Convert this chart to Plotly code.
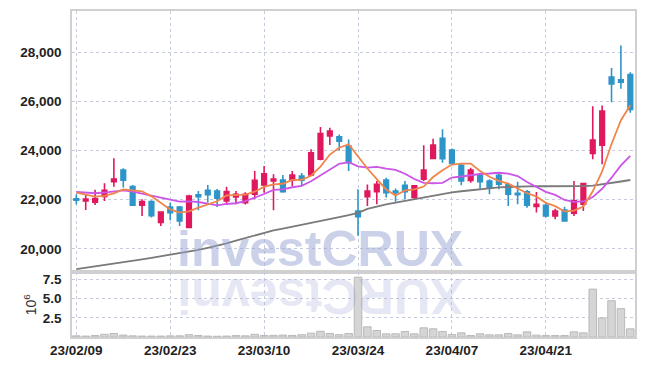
import plotly.graph_objects as go

dates = [
    "2023-02-09", "2023-02-10", "2023-02-13", "2023-02-14", "2023-02-15", "2023-02-16", "2023-02-17",
    "2023-02-20", "2023-02-21", "2023-02-22", "2023-02-23", "2023-02-24", "2023-02-27", "2023-02-28",
    "2023-03-02", "2023-03-03", "2023-03-06", "2023-03-07", "2023-03-08", "2023-03-09", "2023-03-10",
    "2023-03-13", "2023-03-14", "2023-03-15", "2023-03-16", "2023-03-17", "2023-03-20", "2023-03-21",
    "2023-03-22", "2023-03-23", "2023-03-24", "2023-03-27", "2023-03-28", "2023-03-29", "2023-03-30",
    "2023-03-31", "2023-04-03", "2023-04-04", "2023-04-05", "2023-04-06", "2023-04-07", "2023-04-10",
    "2023-04-11", "2023-04-12", "2023-04-13", "2023-04-14", "2023-04-17", "2023-04-18", "2023-04-19",
    "2023-04-20", "2023-04-21", "2023-04-24", "2023-04-25", "2023-04-26", "2023-04-27", "2023-04-28",
    "2023-05-02", "2023-05-03", "2023-05-04", "2023-05-08",
]

opens = [22030, 21950, 21900, 22130, 22730, 23200, 22530, 21770, 21920, 21070,
         21700, 21700, 20865, 22200, 22380, 22350, 21950, 22110, 21880, 22220,
         22600, 22760, 22800, 22790, 22960, 23000, 23640, 24585, 24560, 24180,
         21540, 22120, 22325, 22800, 22350, 22585, 22085, 22830, 23680, 24490,
         24015, 23395, 22785, 22990, 22760, 22990, 22600, 22260, 22315, 21720,
         21775, 21340, 21580, 21450, 21815, 23880, 24210, 26980, 26870, 27090]
highs = [22220, 22220, 22400, 22670, 23680, 23275, 22600, 22020, 21975, 21500,
         21880, 21745, 22200, 22350, 22600, 22430, 22520, 22350, 22300, 23165,
         23370, 23030, 23000, 23165, 23080, 24045, 24950, 24920, 24650, 24450,
         22420, 22620, 22760, 22890, 22450, 22760, 22585, 24210, 24475, 24860,
         24080, 23475, 23300, 23095, 22830, 23095, 22690, 22730, 22395, 22315,
         21880, 21635, 21715, 22760, 22690, 25800, 25830, 27355, 28265, 27180]
lows = [21800, 21580, 21780, 21950, 22520, 22490, 21745, 21340, 21270, 20930,
        21165, 20930, 20840, 21570, 21880, 21700, 21785, 21810, 21800, 22020,
        22285, 21570, 22285, 22560, 22560, 22960, 23600, 24220, 24000, 23165,
        20530, 21745, 21810, 22085, 21910, 22020, 22020, 22760, 23640, 23500,
        23450, 22585, 22690, 22445, 22220, 22420, 21745, 21810, 21675, 21475,
        21270, 21205, 21135, 21340, 21540, 23640, 23435, 25965, 26505, 25530]
closes = [21980, 22020, 22040, 22380, 22840, 22790, 21770, 21920, 21350, 21500,
          21470, 21135, 22150, 22120, 22200, 22060, 22330, 22220, 22220, 22790,
          23055, 22840, 22325, 23000, 22790, 23900, 24690, 24790, 24380, 23500,
          21310, 22350, 22625, 22285, 22285, 22325, 22560, 23205, 24220, 23665,
          23475, 22760, 23205, 22730, 22490, 22625, 22220, 22205, 21775, 21815,
          21340, 21540, 21135, 21950, 22650, 24420, 25600, 26705, 26775, 25670]

ma5 = [22290, 22200, 22120, 22150, 22252, 22414, 22364, 22340, 22134, 21866,
       21602, 21475, 21521, 21675, 21815, 21933, 22172, 22186, 22206, 22324,
       22523, 22625, 22646, 22802, 22802, 22971, 23341, 23834, 24110, 24252,
       23734, 23266, 22833, 22414, 22171, 22374, 22416, 22532, 22919, 23195,
       23425, 23465, 23465, 23167, 22932, 22762, 22654, 22454, 22263, 22128,
       21871, 21735, 21521, 21556, 21723, 22339, 23151, 24265, 25230, 25834]
ma10 = [22320, 22280, 22260, 22290, 22340, 22380, 22330, 22250, 22160, 22059,
        22008, 21920, 21931, 21905, 21841, 21768, 21824, 21854, 21941, 22070,
        22228, 22399, 22416, 22504, 22563, 22747, 22983, 23240, 23456, 23527,
        23353, 23304, 23334, 23262, 23212, 23054, 22841, 22683, 22667, 22683,
        22900, 22941, 22999, 23043, 23064, 23094, 23060, 22960, 22715, 22530,
        22317, 22195, 21988, 21910, 21926, 22105, 22443, 22893, 23393, 23779]
ma60 = [19176, 19229, 19286, 19343, 19400, 19460, 19517, 19574, 19635, 19696,
        19757, 19821, 19886, 19959, 20041, 20122, 20223, 20333, 20442, 20552,
        20669, 20751, 20824, 20897, 20970, 21047, 21128, 21209, 21290, 21371,
        21461, 21623, 21724, 21805, 21878, 21947, 22029, 22110, 22170, 22231,
        22292, 22341, 22386, 22434, 22475, 22495, 22515, 22536, 22548, 22548,
        22544, 22540, 22536, 22540, 22548, 22572, 22617, 22678, 22738, 22799]

volume_millions = [0.15, 0.12, 0.20, 0.35, 0.45, 0.25, 0.15, 0.12, 0.12, 0.12,
                   0.15, 0.15, 0.30, 0.20, 0.12, 0.10, 0.12, 0.18, 0.15, 0.35,
                   0.20, 0.22, 0.25, 0.20, 0.30, 0.50, 0.75, 0.45, 0.30, 0.45,
                   7.79, 1.32, 0.84, 0.41, 0.41, 0.71, 0.41, 1.19, 1.06, 0.71,
                   0.32, 0.54, 0.19, 0.41, 0.28, 0.28, 0.45, 0.28, 0.67, 0.24,
                   0.19, 0.19, 0.19, 0.67, 0.54, 6.23, 2.48, 4.72, 3.69, 1.06]

tick_dates = [dates[0], dates[10], dates[20], dates[30], dates[40], dates[50]]
tick_labels = ["23/02/09", "23/02/23", "23/03/10", "23/03/24", "23/04/07", "23/04/21"]
price_ticks = [20000, 22000, 24000, 26000, 28000]
volume_ticks = [2.5, 5.0, 7.5]

UP = "#e0185e"
DOWN = "#2e95c9"
GRID = "#c6cadd"
FRAME = "#d0d0d0"
TICKFONT = dict(family="Liberation Sans, Arial, sans-serif", size=13.5,
                color="#222222", weight="bold")

fig = go.Figure()

fig.add_trace(go.Bar(
    x=dates, y=volume_millions, xaxis="x2", yaxis="y2",
    marker=dict(color="#d5d5d5", line=dict(color="#b9b9b9", width=1)),
    showlegend=False, hoverinfo="skip",
))

fig.add_trace(go.Candlestick(
    x=dates, open=opens, high=highs, low=lows, close=closes,
    xaxis="x", yaxis="y",
    increasing=dict(line=dict(color=UP, width=1.6), fillcolor=UP),
    decreasing=dict(line=dict(color=DOWN, width=1.6), fillcolor=DOWN),
    showlegend=False,
))

fig.add_trace(go.Scatter(x=dates, y=ma60, mode="lines", xaxis="x", yaxis="y",
                         line=dict(color="#7a7a7a", width=1.8), showlegend=False))
fig.add_trace(go.Scatter(x=dates, y=ma10, mode="lines", xaxis="x", yaxis="y",
                         line=dict(color="#cc55e8", width=1.8), showlegend=False))
fig.add_trace(go.Scatter(x=dates, y=ma5, mode="lines", xaxis="x", yaxis="y",
                         line=dict(color="#f0854c", width=1.8), showlegend=False))

xcommon = dict(
    type="category", range=[-0.46, 59.5],
    tickvals=tick_dates, ticktext=tick_labels,
    showgrid=True, gridcolor=GRID, griddash="dot", gridwidth=1,
    showline=True, linecolor=FRAME, linewidth=1.5, mirror=True,
    ticks="", zeroline=False, tickfont=TICKFONT,
)

VOL_FRAC = 0.198

# The page body has an 8px default margin; the figure is sized so that
# the plotting area lands where the reference has it.
fig.update_layout(
    width=637, height=358,
    margin=dict(l=64, r=10, t=1, b=29),
    paper_bgcolor="white", plot_bgcolor="white",
    xaxis=dict(xcommon, anchor="y", matches="x2", showticklabels=False,
               rangeslider=dict(visible=False)),
    xaxis2=dict(xcommon, anchor="y2", showticklabels=True),
    yaxis=dict(domain=[VOL_FRAC, 1], range=[19040, 29670], tickvals=price_ticks,
               tickformat=",", showgrid=True, gridcolor=GRID, griddash="dot",
               showline=True, linecolor=FRAME, linewidth=1.5, mirror=True,
               zeroline=False, ticks="", ticklabelstandoff=6, tickfont=TICKFONT),
    yaxis2=dict(domain=[0, VOL_FRAC], range=[0, 8.4], tickvals=volume_ticks,
                tickformat=".1f", showgrid=True, gridcolor=GRID, griddash="dot",
                showline=True, linecolor=FRAME, linewidth=1.5, mirror=True,
                zeroline=False, ticks="", ticklabelstandoff=6, tickfont=TICKFONT,
                title=dict(text="10<sup>6</sup>", standoff=3,
                           font=dict(family="Liberation Sans, Arial, sans-serif",
                                     size=14, color="#333333"))),
    annotations=[
        dict(text="<b>investCRUX</b>", xref="paper", yref="paper", x=0.441, y=0.269,
             xanchor="center", yanchor="middle", showarrow=False,
             font=dict(family="Liberation Sans, Arial, sans-serif", size=50,
                       color="rgba(150,163,210,0.5)")),
        dict(text="<b>XURCtsevni</b>", xref="paper", yref="paper", x=0.441, y=0.128,
             xanchor="center", yanchor="middle", showarrow=False, textangle=180,
             font=dict(family="Liberation Sans, Arial, sans-serif", size=50,
                       color="rgba(150,163,210,0.25)")),
    ],
)

fig.write_html("out.html")
